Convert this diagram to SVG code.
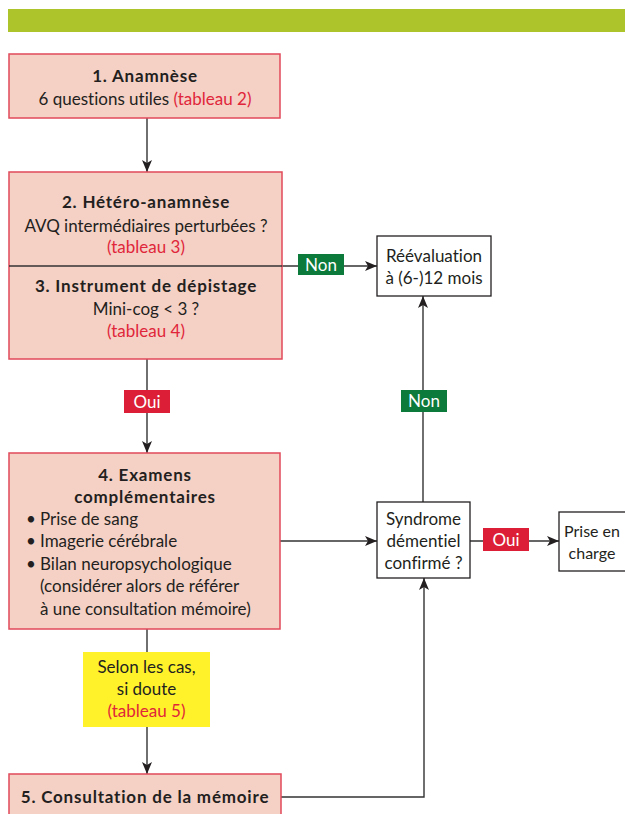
<svg xmlns="http://www.w3.org/2000/svg" width="625" height="814" viewBox="0 0 625 814">
<defs>
<style>
text{font-family:Lato,"Open Sans","Liberation Sans",sans-serif;font-size:17px;fill:#231f20;font-variant-ligatures:none}
.b{font-weight:bold;letter-spacing:0.8px}
.c{text-anchor:middle}
.r{fill:#e0263a}
.w{fill:#ffffff}
.pink{fill:#f5d0c5;stroke:#e04a5a;stroke-width:1.5}
.wb{fill:#ffffff;stroke:#231f20;stroke-width:1.3}
.ln{fill:none;stroke:#333333;stroke-width:1.4}
.arr{marker-end:url(#ah)}
</style>
<marker id="ah" viewBox="0 0 12 10" refX="12" refY="5" markerWidth="12" markerHeight="10" markerUnits="userSpaceOnUse" orient="auto">
<path d="M0,0 L12,5 L0,10 L3,5 z" fill="#231f20"/>
</marker>
</defs>
<rect x="8" y="9" width="617" height="23" fill="#adc52b"/>

<g id="connectors">
<line class="ln arr" x1="147" y1="118" x2="147" y2="172"/>
<line class="ln arr" x1="282" y1="266" x2="377" y2="266"/>
<line class="ln arr" x1="147" y1="359" x2="147" y2="453"/>
<line class="ln arr" x1="280" y1="541" x2="377" y2="541"/>
<line class="ln arr" x1="423" y1="502" x2="423" y2="296"/>
<line class="ln arr" x1="470" y1="541" x2="559" y2="541"/>
<line class="ln arr" x1="147" y1="629" x2="147" y2="774"/>
<path class="ln arr" d="M281,797 H424 V578"/>
<g id="lbl-non1"><rect x="298" y="254" width="46" height="21" fill="#0b7a3a"/><text class="c w" x="321" y="270.5">Non</text></g>
<g id="lbl-oui1"><rect x="124" y="390" width="46" height="23" fill="#dc1f36"/><text class="c w" x="147" y="407.5">Oui</text></g>
<g id="lbl-non2"><rect x="401" y="390" width="46" height="22" fill="#0b7a3a"/><text class="c w" x="424" y="407">Non</text></g>
<g id="lbl-oui2"><rect x="483" y="528" width="46" height="23" fill="#dc1f36"/><text class="c w" x="506" y="545.5">Oui</text></g>
<g id="lbl-selon"><rect x="83" y="652" width="127" height="75" fill="#fff22a"/>
<text class="c" x="146.5" y="673">Selon les cas,</text>
<text class="c" x="146.5" y="695">si doute</text>
<text class="c r" x="146.5" y="717">(tableau 5)</text></g>
</g>

<g id="n1">
<rect class="pink" x="9" y="54" width="271" height="64"/>
<text class="c b" x="145" y="82">1. Anamnèse</text>
<text class="c" x="145" y="105">6 questions utiles <tspan class="r">(tableau 2)</tspan></text>
</g>

<g id="n23">
<rect class="pink" x="9" y="172" width="273" height="187"/>
<line x1="9" y1="266" x2="282" y2="266" stroke="#333333" stroke-width="1.4"/>
<text class="c b" x="146" y="208">2. Hétéro-anamnèse</text>
<text class="c" x="146" y="232">AVQ intermédiaires perturbées ?</text>
<text class="c r" x="146" y="253">(tableau 3)</text>
<text class="c b" x="146" y="292">3. Instrument de dépistage</text>
<text class="c" x="146" y="315">Mini-cog &lt; 3 ?</text>
<text class="c r" x="146" y="337">(tableau 4)</text>
</g>

<g id="n-reeval">
<rect class="wb" x="377" y="236" width="114" height="60"/>
<text class="c" x="434" y="262">Réévaluation</text>
<text class="c" x="434" y="284">à (6-)12 mois</text>
</g>

<g id="n4">
<rect class="pink" x="9" y="453" width="271" height="176"/>
<text class="c b" x="145" y="481">4. Examens</text>
<text class="c b" x="145" y="503">complémentaires</text>
<text x="26" y="525">•</text><text x="40" y="525">Prise de sang</text>
<text x="26" y="547">•</text><text x="40" y="547">Imagerie cérébrale</text>
<text x="26" y="570">•</text><text x="40" y="570">Bilan neuropsychologique</text>
<text x="40" y="592">(considérer alors de référer</text>
<text x="40" y="615">à une consultation mémoire)</text>
</g>

<g id="n-syndrome">
<rect class="wb" x="377" y="502" width="93" height="76"/>
<text class="c" x="423.5" y="525">Syndrome</text>
<text class="c" x="423.5" y="547">démentiel</text>
<text class="c" x="423.5" y="569">confirmé ?</text>
</g>

<g id="n-prise">
<rect class="wb" x="559" y="512" width="75" height="59"/>
<text class="c" x="592" y="537" style="font-size:16px">Prise en</text>
<text class="c" x="592" y="559" style="font-size:16px">charge</text>
</g>

<g id="n5">
<rect class="pink" x="9" y="774" width="272" height="50"/>
<text class="c b" x="145" y="803">5. Consultation de la mémoire</text>
</g>
</svg>
